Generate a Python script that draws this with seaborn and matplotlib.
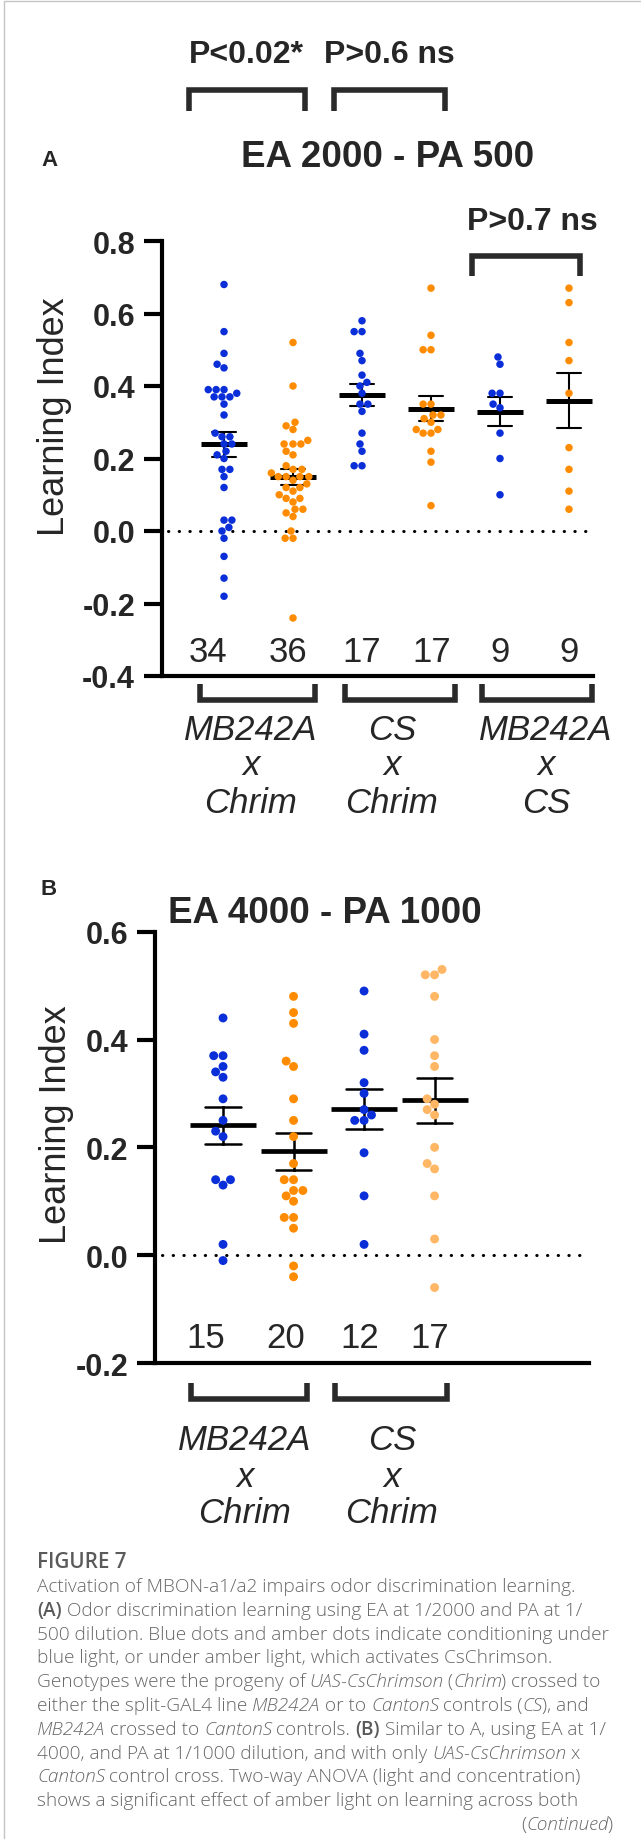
import numpy as np
import pandas as pd
import matplotlib
matplotlib.use("Agg")
import matplotlib.pyplot as plt
from matplotlib.lines import Line2D
import seaborn as sns

# ---- panel A (EA 2000 - PA 500), learning index per group ----
a_mb_chrim_blue = [0.68, 0.55, 0.49, 0.46, 0.45, 0.39, 0.39, 0.39, 0.38, 0.37, 0.37, 0.37,
                   0.35, 0.32, 0.27, 0.26, 0.26, 0.24, 0.24, 0.22, 0.21, 0.20, 0.17, 0.17,
                   0.15, 0.12, 0.03, 0.03, 0.01, 0.00, -0.02, -0.07, -0.13, -0.18]
a_mb_chrim_amber = [0.52, 0.40, 0.30, 0.29, 0.28, 0.25, 0.24, 0.24, 0.24, 0.22, 0.21, 0.18,
                    0.17, 0.17, 0.16, 0.15, 0.15, 0.15, 0.15, 0.14, 0.13, 0.12, 0.12, 0.11,
                    0.10, 0.09, 0.09, 0.08, 0.06, 0.06, 0.05, 0.04, 0.00, -0.02, -0.02, -0.24]
a_cs_chrim_blue = [0.58, 0.55, 0.55, 0.49, 0.47, 0.43, 0.41, 0.40, 0.38, 0.35, 0.35, 0.33,
                   0.27, 0.24, 0.22, 0.18, 0.18]
a_cs_chrim_amber = [0.67, 0.54, 0.50, 0.50, 0.35, 0.35, 0.32, 0.32, 0.31, 0.30, 0.28, 0.28,
                    0.27, 0.27, 0.22, 0.19, 0.07]
a_mb_cs_blue = [0.48, 0.46, 0.38, 0.38, 0.35, 0.34, 0.27, 0.20, 0.10]
a_mb_cs_amber = [0.67, 0.63, 0.52, 0.47, 0.38, 0.23, 0.17, 0.11, 0.06]

# ---- panel B (EA 4000 - PA 1000) ----
b_mb_chrim_blue = [0.44, 0.37, 0.37, 0.35, 0.34, 0.33, 0.29, 0.25, 0.23, 0.22, 0.14, 0.14,
                   0.13, 0.02, -0.01]
b_mb_chrim_amber = [0.48, 0.45, 0.43, 0.36, 0.35, 0.29, 0.25, 0.22, 0.17, 0.14, 0.14, 0.12,
                    0.12, 0.11, 0.10, 0.07, 0.07, 0.05, -0.02, -0.04]
b_cs_chrim_blue = [0.49, 0.41, 0.38, 0.32, 0.30, 0.27, 0.26, 0.25, 0.25, 0.19, 0.11, 0.02]
b_cs_chrim_amber = [0.53, 0.52, 0.52, 0.48, 0.40, 0.37, 0.35, 0.29, 0.28, 0.27, 0.26, 0.20,
                    0.17, 0.16, 0.11, 0.03, -0.06]

a_names = ["MB242A x Chrim blue", "MB242A x Chrim amber", "CS x Chrim blue",
           "CS x Chrim amber", "MB242A x CS blue", "MB242A x CS amber"]
b_names = ["MB242A x Chrim blue", "MB242A x Chrim amber", "CS x Chrim blue", "CS x Chrim amber"]
a_yticks = [-0.4, -0.2, 0.0, 0.2, 0.4, 0.6, 0.8]
b_yticks = [-0.2, 0.0, 0.2, 0.4, 0.6]

BLUE = "#0a2ed8"
AMBER = "#ff8c00"
LIGHT_AMBER = "#ffb766"
BRK = "#2a2a2a"

sns.set_theme(style="white")
plt.rcParams["font.family"] = ["Liberation Sans", "DejaVu Sans"]
plt.rcParams["axes.unicode_minus"] = False

W, H = 641, 1840
fig = plt.figure(figsize=(W / 100, H / 100), dpi=100)


def fx(x):
    return x / W


def fy(y):
    return 1 - y / H


def ftext(x, y, s, **kw):
    kw.setdefault("va", "baseline")
    kw.setdefault("ha", "center")
    return fig.text(fx(x), fy(y), s, **kw)


def bracket(x0, x1, y_open, y_line):
    # arms run from y_open to y_line, horizontal bar at y_line
    fig.add_artist(Line2D([fx(x0), fx(x0), fx(x1), fx(x1)],
                          [fy(y_open), fy(y_line), fy(y_line), fy(y_open)],
                          transform=fig.transFigure, color=BRK, lw=4,
                          solid_joinstyle="miter", solid_capstyle="butt"))


def panel(ax, names, values, colors, dot, bar, mew, cap, elw, xlim, ylim, yticks):
    df = pd.DataFrame({"group": np.repeat(names, [len(v) for v in values]),
                       "li": np.concatenate(values)})
    sns.swarmplot(data=df, x="group", y="li", hue="group", order=names, hue_order=names,
                  palette=colors, size=dot, linewidth=0, legend=False, ax=ax)
    sns.pointplot(data=df, x="group", y="li", order=names, errorbar="se", capsize=cap,
                  color="black", marker="_", markersize=bar, markeredgewidth=mew,
                  linestyle="none", err_kws={"linewidth": elw}, ax=ax)
    ax.axhline(0, xmin=0.015, color="black", lw=2.2, ls=(0, (0.1, 3.4)),
               dash_capstyle="round")
    ax.set_xlim(xlim)
    ax.set_ylim(ylim)
    ax.set_xticks([])
    ax.set_xlabel("")
    ax.set_ylabel("")
    ax.set_yticks(yticks)
    ax.set_yticklabels([f"{t:.1f}" for t in yticks], fontsize=22, fontweight="bold")
    ax.tick_params(axis="y", length=13, width=3, pad=6, color="black", left=True)
    for s in ["top", "right"]:
        ax.spines[s].set_visible(False)
    for s in ["left", "bottom"]:
        ax.spines[s].set_linewidth(3)
        ax.spines[s].set_color("black")
    ax.patch.set_alpha(0)


# ---------------- panel A ----------------
axA = fig.add_axes([fx(161.5), fy(677), (593 - 161.5) / W, (677 - 242) / H])
a_vals = [a_mb_chrim_blue, a_mb_chrim_amber, a_cs_chrim_blue, a_cs_chrim_amber,
          a_mb_cs_blue, a_mb_cs_amber]
panel(axA, a_names, a_vals, [BLUE, AMBER, BLUE, AMBER, BLUE, AMBER],
      dot=5.4, bar=33, mew=3.6, cap=0.35, elw=1.5,
      xlim=(-0.906, 5.348), ylim=(-0.4, 0.8), yticks=a_yticks)

ftext(41, 166, "A", ha="left", fontsize=16, fontweight="bold")
ftext(388, 167, "EA 2000 - PA 500", fontsize=26.5, fontweight="bold")
ftext(246, 63, "P<0.02*", fontsize=23, fontweight="bold")
ftext(389, 63, "P>0.6 ns", fontsize=23, fontweight="bold")
ftext(532, 230, "P>0.7 ns", fontsize=23, fontweight="bold")
bracket(189, 305, 112, 91)
bracket(334, 445, 112, 91)
bracket(472, 580, 277, 257)
ftext(55, 417, "Learning Index", rotation=90, va="center", fontsize=26)

for xc, v in zip([208, 288, 362, 432, 500, 569], a_vals):
    ftext(xc, 662, str(len(v)), fontsize=25)

bracket(200, 315, 685, 701)
bracket(345, 455, 685, 701)
bracket(482, 592, 685, 701)
for xc, lines in zip([251, 392, 546], [("MB242A", "x", "Chrim"), ("CS", "x", "Chrim"),
                                        ("MB242A", "x", "CS")]):
    for yb, s in zip([740, 775, 813], lines):
        ftext(xc, yb, s, fontsize=25, style="italic")

# ---------------- panel B ----------------
axB = fig.add_axes([fx(155), fy(1364), (589 - 155) / W, (1364 - 932.7) / H])
b_vals = [b_mb_chrim_blue, b_mb_chrim_amber, b_cs_chrim_blue, b_cs_chrim_amber]
panel(axB, b_names, b_vals, [BLUE, AMBER, BLUE, LIGHT_AMBER],
      dot=6.4, bar=48, mew=3.4, cap=0.5, elw=1.8,
      xlim=(-0.965, 5.19), ylim=(-0.2, 0.6), yticks=b_yticks)

ftext(41, 895, "B", ha="left", fontsize=16, fontweight="bold")
ftext(325, 923, "EA 4000 - PA 1000", fontsize=26.5, fontweight="bold")
ftext(56, 1125, "Learning Index", rotation=90, va="center", fontsize=26)
for xc, v in zip([206, 286, 360, 430], b_vals):
    ftext(xc, 1348, str(len(v)), fontsize=25)
bracket(191, 307, 1384, 1400)
bracket(335, 447, 1384, 1400)
for xc, lines in zip([245, 392], [("MB242A", "x", "Chrim"), ("CS", "x", "Chrim")]):
    for yb, s in zip([1450, 1487, 1523], lines):
        ftext(xc, yb, s, fontsize=25, style="italic")

# ---------------- caption ----------------
renderer = fig.canvas.get_renderer()
CAP = dict(fontsize=12, color="#676767", family=["Open Sans", "DejaVu Sans"], fontweight=300)


def run_width(s, kw):
    t = fig.text(0, 0, "." + s + ".", **kw)
    d = fig.text(0, 0, "..", **kw)
    w = t.get_window_extent(renderer).width - d.get_window_extent(renderer).width
    t.remove()
    d.remove()
    return w


# scale the caption so its widest line spans the same 574 px as in the figure
CAP["fontsize"] = 12 * 574 / run_width("500 dilution. Blue dots and amber dots indicate "
                                       "conditioning under", CAP)


def rich(x, yb, runs, align="left", size=None):
    items = []
    for s, st in runs:
        kw = dict(CAP)
        if size:
            kw["fontsize"] = size
        if "i" in st:
            kw["style"] = "italic"
        if "b" in st:
            kw["fontweight"] = "semibold"
            kw["color"] = "#5a5a5a"
        items.append((s, kw, run_width(s, kw)))
    if align == "right":
        x = x - sum(w for _, _, w in items)
    for s, kw, w in items:
        fig.text(fx(x), fy(yb), s, va="baseline", ha="left", **kw)
        x += w


caption = [
    [("Activation of MBON-a1/a2 impairs odor discrimination learning.", "")],
    [("(A)", "b"), (" Odor discrimination learning using EA at 1/2000 and PA at 1/", "")],
    [("500 dilution. Blue dots and amber dots indicate conditioning under", "")],
    [("blue light, or under amber light, which activates CsChrimson.", "")],
    [("Genotypes were the progeny of ", ""), ("UAS-CsChrimson", "i"), (" (", ""),
     ("Chrim", "i"), (") crossed to", "")],
    [("either the split-GAL4 line ", ""), ("MB242A", "i"), (" or to ", ""), ("CantonS", "i"),
     (" controls (", ""), ("CS", "i"), ("), and", "")],
    [("MB242A", "i"), (" crossed to ", ""), ("CantonS", "i"), (" controls. ", ""), ("(B)", "b"),
     (" Similar to A, using EA at 1/", "")],
    [("4000, and PA at 1/1000 dilution, and with only ", ""), ("UAS-CsChrimson", "i"),
     (" x", "")],
    [("CantonS", "i"), (" control cross. Two-way ANOVA (light and concentration)", "")],
    [("shows a significant effect of amber light on learning across both", "")],
]
rich(37, 1568, [("FIGURE 7", "b")], size=CAP["fontsize"] * 1.08)
for k, runs in enumerate(caption):
    rich(37, 1592 + k * 23.8, runs)
rich(613, 1830, [("(", ""), ("Continued", "i"), (")", "")], align="right")

# thin frame lines of the page
fig.add_artist(Line2D([fx(4), fx(4), fx(641)], [fy(1840), fy(2), fy(2)],
                      transform=fig.transFigure, color="#c4c4c4", lw=1))

fig.savefig("out.png", dpi=100)
